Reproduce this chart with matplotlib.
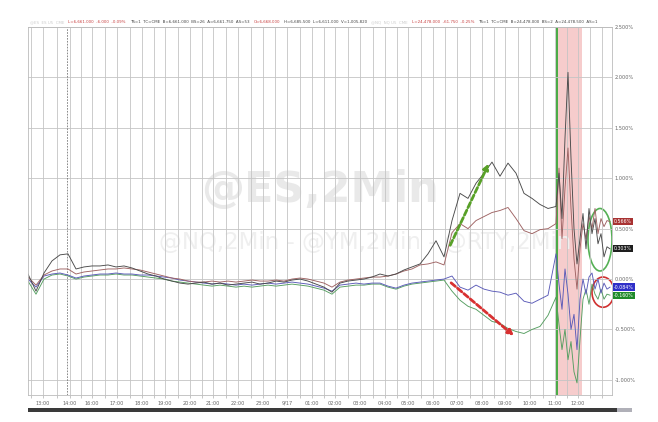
import numpy as np
import matplotlib
matplotlib.use("Agg")
import matplotlib.pyplot as plt
from matplotlib.patches import Ellipse, Rectangle

# time axis (chart units), coarse for the quiet part, fine for the volatile end
t = np.r_[np.arange(0, 528, 8), np.arange(528, 585, 3)]

nq = [0.05, -0.12, 0.06, 0.18, 0.24, 0.25, 0.10, 0.12, 0.13, 0.13, 0.14,
      0.12, 0.13, 0.11, 0.08, 0.05, 0.03, 0.00, -0.02, -0.04, -0.05, -0.04,
      -0.03, -0.05, -0.04, -0.06, -0.05, -0.04, -0.03, -0.05, -0.04, -0.02, -0.03,
      -0.01, 0.00, -0.02, -0.05, -0.08, -0.13, -0.04, -0.02, -0.01, 0.00, 0.02,
      0.05, 0.03, 0.05, 0.09, 0.12, 0.15, 0.25, 0.38, 0.22, 0.58, 0.85,
      0.80, 0.95, 1.05, 1.16, 1.02, 1.15, 1.05, 0.85, 0.80, 0.74, 0.70,
      0.72, 1.05, 0.60, 1.40, 2.05, 1.20, 0.50, 0.15, 0.40, 0.65, 0.30, 0.70,
      0.45, 0.60, 0.35, 0.45, 0.22, 0.32, 0.30]
es = [0.02, -0.06, 0.04, 0.08, 0.10, 0.10, 0.05, 0.07, 0.08, 0.09, 0.10,
      0.10, 0.11, 0.10, 0.09, 0.07, 0.05, 0.03, 0.01, 0.00, -0.02, -0.03,
      -0.03, -0.02, -0.03, -0.02, -0.03, -0.02, -0.01, -0.02, -0.02, -0.01, -0.02,
      0.00, 0.01, 0.00, -0.02, -0.04, -0.08, -0.03, -0.01, 0.00, 0.01, 0.02,
      0.02, 0.03, 0.05, 0.08, 0.10, 0.14, 0.15, 0.17, 0.14, 0.46, 0.55,
      0.50, 0.58, 0.62, 0.66, 0.68, 0.71, 0.60, 0.48, 0.45, 0.49, 0.50,
      0.55, 1.10, 0.40, 0.90, 1.30, 0.70, 0.20, -0.10, 0.30, 0.55, 0.40, 0.62,
      0.50, 0.70, 0.45, 0.60, 0.52, 0.58, 0.57]
ym = [0.00, -0.08, 0.03, 0.05, 0.06, 0.04, 0.01, 0.03, 0.04, 0.05, 0.05,
      0.06, 0.05, 0.05, 0.04, 0.04, 0.03, 0.02, 0.01, -0.01, -0.02, -0.03,
      -0.04, -0.05, -0.04, -0.05, -0.06, -0.05, -0.06, -0.05, -0.04, -0.05, -0.04,
      -0.03, -0.04, -0.05, -0.07, -0.09, -0.12, -0.06, -0.05, -0.04, -0.05, -0.04,
      -0.04, -0.07, -0.09, -0.06, -0.04, -0.03, -0.02, -0.01, 0.00, 0.03, -0.08,
      -0.11, -0.06, -0.10, -0.12, -0.13, -0.16, -0.14, -0.22, -0.24, -0.20, -0.16,
      0.25, -0.05, -0.30, 0.10, -0.15, -0.50, -0.35, -0.70, -0.20, 0.00, -0.15, 0.02,
      0.06, -0.10, 0.00, -0.14, -0.04, -0.10, -0.08]
rty = [-0.02, -0.15, 0.00, 0.04, 0.05, 0.03, 0.00, 0.02, 0.03, 0.04, 0.04,
       0.05, 0.04, 0.04, 0.03, 0.02, 0.01, 0.00, -0.02, -0.03, -0.04, -0.05,
       -0.06, -0.07, -0.06, -0.07, -0.08, -0.07, -0.08, -0.07, -0.06, -0.07, -0.06,
       -0.05, -0.06, -0.07, -0.09, -0.11, -0.15, -0.08, -0.07, -0.06, -0.06, -0.05,
       -0.05, -0.08, -0.10, -0.07, -0.05, -0.04, -0.03, -0.02, -0.01, -0.12, -0.21,
       -0.27, -0.30, -0.36, -0.42, -0.44, -0.49, -0.52, -0.54, -0.50, -0.47, -0.36,
       -0.18, -0.45, -0.70, -0.50, -0.80, -0.62, -0.92, -1.03, -0.60, -0.20, -0.10, -0.25,
       -0.05, -0.15, -0.20, -0.10, -0.20, -0.15, -0.16]

tick_pos = [15, 42, 64, 89, 114, 137, 162, 185, 210, 235, 259, 284,
            307, 332, 357, 380, 405, 429, 454, 477, 502, 527, 550]
tick_labels = ["13:00", "14:00", "16:00", "17:00", "18:00", "19:00", "20:00",
               "21:00", "22:00", "23:00", "9/17", "01:00", "02:00", "03:00",
               "04:00", "05:00", "06:00", "07:00", "08:00", "09:00", "10:00",
               "11:00", "12:00"]
y_ticks = [-1.0, -0.5, 0.0, 0.5, 1.0, 1.5, 2.0, 2.5]

last_vals = ["0.566%", "0.303%", "-0.084%", "-0.160%"]
last_pos = [0.57, 0.30, -0.08, -0.16]
last_cols = ["#a83232", "#1e1e1e", "#2f2fc8", "#1f8a2a"]

fig = plt.figure(figsize=(6.58, 4.22), dpi=100)
ax = fig.add_axes([28 / 658, 1 - 395 / 422, 584 / 658, 368 / 422])

ax.set_xlim(0, 584)
ax.set_ylim(-1.15, 2.5)

# grid
mids = [(a + b) / 2 for a, b in zip(tick_pos[:-1], tick_pos[1:])]
ax.set_xticks(tick_pos)
ax.set_xticks(mids + [tick_pos[0] - 12, tick_pos[-1] + 12, tick_pos[-1] + 24], minor=True)
ax.set_xticklabels(tick_labels, fontsize=3.6, color="#666666")
ax.tick_params(axis="x", which="both", length=2, width=0.4, color="#999999", pad=2)
ax.grid(axis="x", which="both", color="#c4c4c4", lw=0.6)
ax.set_yticks(y_ticks)
ax.yaxis.tick_right()
ax.set_yticklabels(["%.3f%%" % v for v in y_ticks], fontsize=3.6, color="#666666")
ax.tick_params(axis="y", length=0, pad=2)
ax.grid(axis="y", color="#c4c4c4", lw=0.6)
for s in ax.spines.values():
    s.set_color("#bbbbbb")
    s.set_linewidth(0.6)
ax.axvline(39, color="#777777", lw=0.6, ls=(0, (2, 1.5)))

# event window
ax.axvspan(528, 554, color="#f6cccc", lw=0, zorder=0)
ax.axvline(529, color="#3aa83a", lw=1.3, zorder=1)

# watermark
ax.text(292, 0.88, "@ES,2Min", fontsize=31, fontweight="bold", color="#e9e9e9",
        ha="center", va="center", zorder=0)
ax.text(337, 0.36, "@NQ,2Min - @YM,2Min - @RTY,2Min", fontsize=16.5, color="#efefef",
        ha="center", va="center", zorder=0)

ax.plot(t, rty, color="#559e60", lw=0.65)
ax.plot(t, ym, color="#5a5ab8", lw=0.65)
ax.plot(t, es, color="#9e6262", lw=0.65)
ax.plot(t, nq, color="#4a4a4a", lw=0.65)

# arrows
ax.annotate("", xy=(462, 1.17), xytext=(421, 0.31),
            arrowprops=dict(arrowstyle="-|>", color="#58a028", lw=2,
                            ls=(0, (2, 1)), mutation_scale=8))
ax.annotate("", xy=(488, -0.58), xytext=(421, -0.02),
            arrowprops=dict(arrowstyle="-|>", color="#d83030", lw=2,
                            ls=(0, (2, 1)), mutation_scale=8))

ax.add_patch(Ellipse((572, 0.39), 24, 0.62, fill=False, ec="#55b055", lw=1.2))
ax.add_patch(Ellipse((575, -0.13), 22, 0.30, fill=False, ec="#d03030", lw=1.2))

# last value tags
for txt, v, c in zip(last_vals, last_pos, last_cols):
    ax.text(586, v, txt, fontsize=3.4, color="white", va="center", ha="left",
            bbox=dict(boxstyle="square,pad=0.25", fc=c, ec="none"), zorder=5,
            clip_on=False)

# quote header
header = [
    ("@ES  ES U5  CME", "#cccccc"),
    ("L=6,661.000  -6.000  -0.09%", "#c84040"),
    ("TS=1  TC=CME  B=6,661.000  BS=26  A=6,661.750  AS=53", "#444444"),
    ("O=6,668.000", "#c84040"),
    ("H=6,685.500  L=6,611.000  V=1,005,820", "#444444"),
    ("@NQ  NQ U5  CME", "#cccccc"),
    ("L=24,478.000  -61.750  -0.25%", "#c84040"),
    ("TS=1  TC=CME  B=24,478.000  BS=2  A=24,478.500  AS=1", "#444444"),
]
xh = 30 / 658
for txt, c in header:
    tx = fig.text(xh, 1 - 22 / 422, txt, fontsize=2.9, color=c, va="center")
    fig.canvas.draw()
    bb = tx.get_window_extent()
    xh = (bb.x1 + 4) / 658

# scrollbar at the bottom
fig.patches.append(Rectangle((28 / 658, 1 - 412 / 422), 589 / 658, 4 / 422,
                             transform=fig.transFigure, fc="#3a3a3a", ec="none"))
fig.patches.append(Rectangle((617 / 658, 1 - 412 / 422), 15 / 658, 4 / 422,
                             transform=fig.transFigure, fc="#b0b0b8", ec="none"))

fig.savefig("out.png", dpi=100)
